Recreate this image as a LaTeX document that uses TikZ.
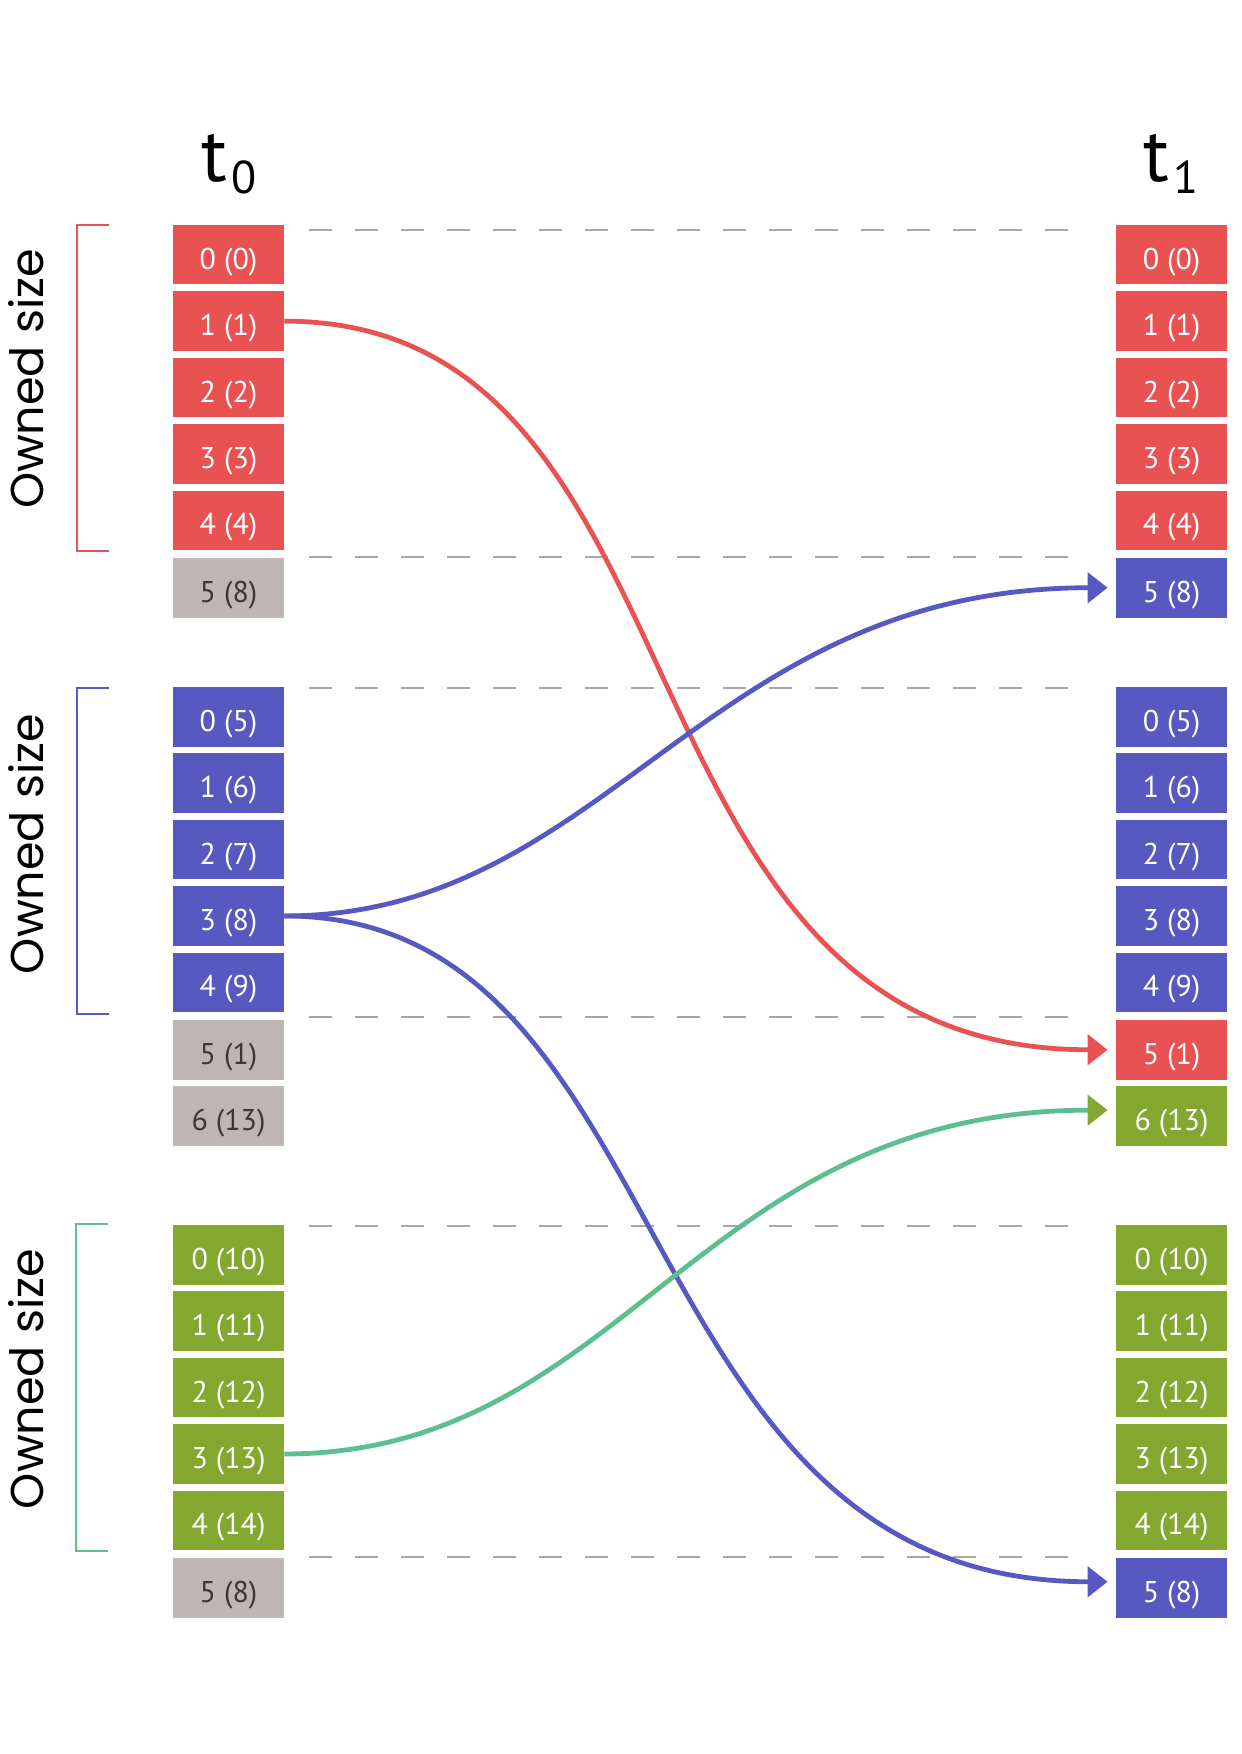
\documentclass[tikz,border=0pt]{standalone}
\usepackage{fontspec}
\setmainfont{PT Sans}
\newfontfamily\ownedfont{Poppins}
\usetikzlibrary{arrows.meta}
\definecolor{redcell}{HTML}{E95252}
\definecolor{bluecell}{HTML}{5858C1}
\definecolor{greencell}{HTML}{83A72F}
\definecolor{graycell}{HTML}{BFB5B4}
\definecolor{tealline}{HTML}{5DBF8F}
\tikzset{cell/.style={minimum width=55.5pt, minimum height=29.75pt, inner sep=0pt,
   text height=14.5pt, text depth=0pt, text=white, font=\fontsize{15}{18}\selectfont},
 spare/.style={cell, fill=graycell, text=black!78},
 sepline/.style={draw=black!35, line width=0.6pt, dash pattern=on 11.5pt off 11.5pt},
 bracket/.style={line width=0.75pt},
 owned/.style={rotate=90, anchor=base, font=\ownedfont\fontsize{23}{26}\selectfont},
 stamp/.style={anchor=base, font=\fontsize{38}{40}\selectfont},
 link/.style={line width=2.4pt, -{Triangle[length=10pt, width=15pt]}, shorten >=4pt},
}

\begin{document}
\begin{tikzpicture}[x=0.5pt, y=-0.5pt]
        \useasboundingbox (0,0) rectangle (1241,1754);
        \node[stamp] (t0) at (229,182) {t\hspace{2pt}\raisebox{-6pt}{\fontsize{23}{23}\selectfont 0}};
        \node[stamp] (t1) at (1171,182) {t\hspace{2pt}\raisebox{-6pt}{\fontsize{23}{23}\selectfont 1}};
        % owned cells, same on both sides
        \foreach \g/\gy/\col/\off in {1/225/redcell/0, 2/687/bluecell/5, 3/1225/greencell/10} {
            \foreach \i in {0,...,4} {
                \pgfmathtruncatemacro\v{\i+\off}
                \node[cell, fill=\col] (l\g-\i) at (228.5, \gy+29.75+66.4*\i) {\i\ (\v)};
                \node[cell, fill=\col] (r\g-\i) at (1171.5, \gy+29.75+66.4*\i) {\i\ (\v)};
            }
        }
        \node[spare] (l1-5) at (228.5, 587.75) {5 (8)};
        \node[cell, fill=bluecell] (r1-5) at (1171.5, 587.75) {5 (8)};
        \node[spare] (l2-5) at (228.5, 1049.75) {5 (1)};
        \node[spare] (l2-6) at (228.5, 1116.15) {6 (13)};
        \node[cell, fill=redcell] (r2-5) at (1171.5, 1049.75) {5 (1)};
        \node[cell, fill=greencell] (r2-6) at (1171.5, 1116.15) {6 (13)};
        \node[spare] (l3-5) at (228.5, 1587.75) {5 (8)};
        \node[cell, fill=bluecell] (r3-5) at (1171.5, 1587.75) {5 (8)};
        \foreach \y in {230, 557, 688, 1017, 1226, 1557} {
            \draw[sepline] (309,\y) -- (1069,\y);
        }
        \draw[bracket, redcell] (109,225) -- (77,225) -- (77,551) -- (109,551);
        \draw[bracket, bluecell] (109,688) -- (77,688) -- (77,1014) -- (109,1014);
        \draw[bracket, tealline] (108,1224) -- (76,1224) -- (76,1551) -- (108,1551);
        \node[owned] (o1) at (43,379) {Owned size};
        \node[owned] (o2) at (43,844) {Owned size};
        \node[owned] (o3) at (43,1379) {Owned size};
        % moves
        \draw[link, redcell] (l1-1.east) .. controls +(439,0) and +(-519,0) .. (r2-5.west);
        \draw[link, bluecell] (l2-3.east) .. controls +(323,0) and +(-412,0) .. (r1-5.west);
        \draw[link, bluecell] (l2-3.east) .. controls +(403,0) and +(-498,0) .. ([yshift=3pt]r3-5.west);
        \draw[link, tealline, -{Triangle[length=10pt, width=15pt, color=greencell]}] (l3-3.east) .. controls +(339,0) and +(-419,0) .. ([yshift=3pt]r2-6.west);
    \end{tikzpicture}
\end{document}
